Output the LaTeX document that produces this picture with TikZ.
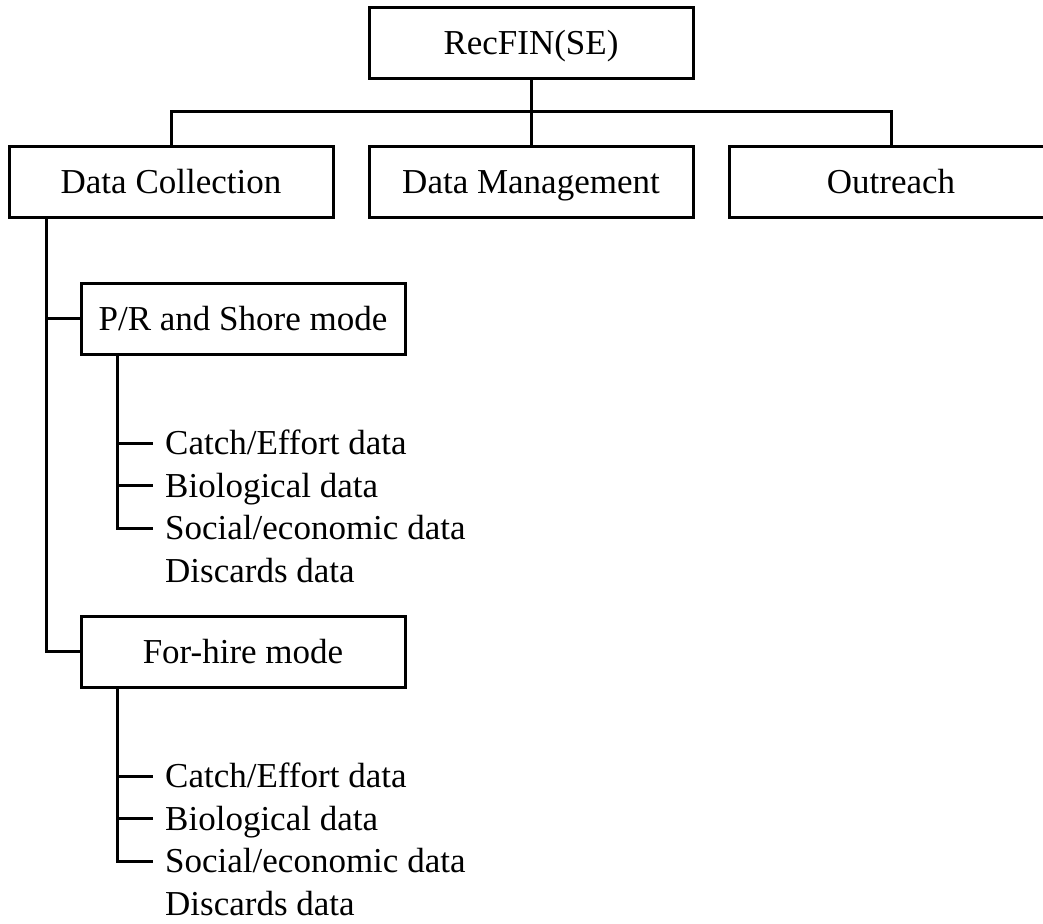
\documentclass[tikz,border=0pt]{standalone}
\usepackage{fontspec}
\setmainfont{Liberation Serif}
\usetikzlibrary{positioning}

\tikzset{
  box/.style={draw, line width=3pt, rectangle, minimum width=324pt, minimum height=71pt, inner sep=0pt, text height=23pt, text depth=0pt},
  item/.style={anchor=west, inner xsep=12pt, inner ysep=0pt, text height=23pt, text depth=0pt},
  link/.style={line width=3pt}
}

\begin{document}
\begin{tikzpicture}[x=1pt,y=-1pt,font=\fontsize{35pt}{42pt}\selectfont]
  \useasboundingbox (0,0) rectangle (1043,923);
  \clip (0,0) rectangle (1043,923);
  % top level
  \node[box] (top) at (531,43) {RecFIN(SE)};
  \node[box] (dc) at (171,181.5) {Data Collection};
  \node[box] (dm) at (531,181.5) {Data Management};
  \node[box] (out) at (891,181.5) {Outreach};
  \coordinate (bar) at (531,112);
  \draw[link] (top) -- (dm);
  \draw[link] (dc.north) |- (bar) -| (out.north);
  % modes
  \node[box] (pr) at (243,318.5) {P/R and Shore mode};
  \node[box] (fh) at (243,651.5) {For-hire mode};
  \draw[link] ([xshift=39pt]dc.south west) |- (pr.west);
  \draw[link] ([xshift=39pt]dc.south west) |- (fh.west);
  % data items under each mode
  \foreach \m/\y in {pr/443,fh/776} {
    \foreach \t [count=\k] in {{Catch/Effort data},{Biological data},{Social/economic data},{Discards data}}
      \node[item] (\m\k) at (153,\y+42.5*\k-42.5) {\t};
    \foreach \k in {1,2,3}
      \draw[link] ([xshift=38pt]\m.south west) |- (\m\k.west);
  }
\end{tikzpicture}
\end{document}
